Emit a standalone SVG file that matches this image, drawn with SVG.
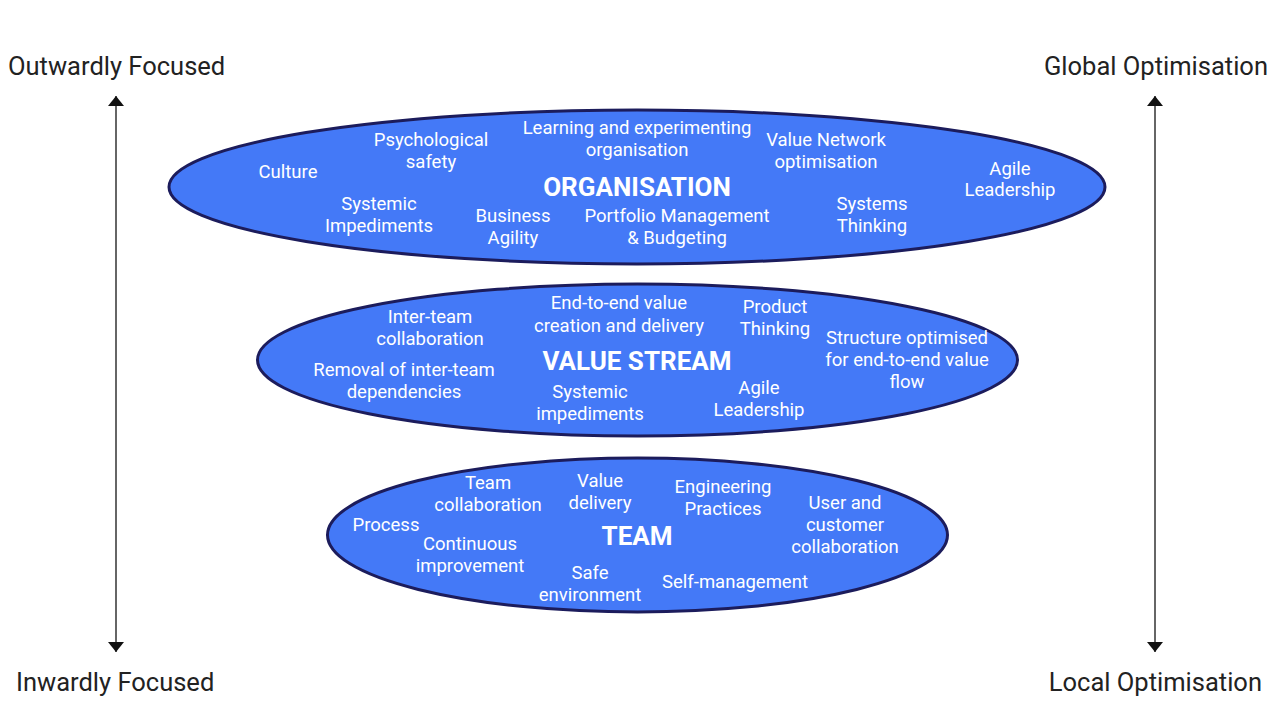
<svg xmlns="http://www.w3.org/2000/svg" width="1280" height="718" viewBox="0 0 1280 718">
<defs>
<style>
.ell{fill:#4479f7;stroke:#1c1c5c;stroke-width:3}
.t{font-family:Roboto,"Liberation Sans",sans-serif;font-size:18.5px;fill:#fff;text-anchor:middle}
.h{font-family:Roboto,"Liberation Sans",sans-serif;font-size:26px;font-weight:bold;fill:#fff;text-anchor:middle}
.ax{font-family:Roboto,"Liberation Sans",sans-serif;font-size:25.5px;fill:#222}
.ln{stroke:#333;stroke-width:1.5;fill:none}
</style>
<marker id="ah" viewBox="0 0 10 16" refX="10" refY="8" markerWidth="10" markerHeight="16" markerUnits="userSpaceOnUse" orient="auto">
<path d="M0,0 L10,8 L0,16 Z" fill="#111"/>
</marker>
</defs>
<rect width="1280" height="718" fill="#fff"/>
<g id="connectors">
<line class="ln" x1="116" y1="374" x2="116" y2="96" marker-end="url(#ah)"/>
<line class="ln" x1="116" y1="374" x2="116" y2="652" marker-end="url(#ah)"/>
<line class="ln" x1="1155" y1="374" x2="1155" y2="96" marker-end="url(#ah)"/>
<line class="ln" x1="1155" y1="374" x2="1155" y2="652" marker-end="url(#ah)"/>
</g>
<g id="axis-labels">
<text class="ax" x="8" y="75">Outwardly Focused</text>
<text class="ax" x="16" y="691">Inwardly Focused</text>
<text class="ax" x="1268" y="75" text-anchor="end">Global Optimisation</text>
<text class="ax" x="1262" y="691" text-anchor="end">Local Optimisation</text>
</g>
<g id="organisation">
<ellipse class="ell" cx="637" cy="187" rx="468" ry="77"/>
<text class="h" x="637" y="196">ORGANISATION</text>
<text class="t" x="288" y="178">Culture</text>
<text class="t" x="431" y="146">Psychological</text>
<text class="t" x="431" y="168">safety</text>
<text class="t" x="637" y="134">Learning and experimenting</text>
<text class="t" x="637" y="156">organisation</text>
<text class="t" x="826" y="146">Value Network</text>
<text class="t" x="826" y="168">optimisation</text>
<text class="t" x="1010" y="175">Agile</text>
<text class="t" x="1010" y="196">Leadership</text>
<text class="t" x="379" y="210">Systemic</text>
<text class="t" x="379" y="232">Impediments</text>
<text class="t" x="513" y="222">Business</text>
<text class="t" x="513" y="244">Agility</text>
<text class="t" x="677" y="222">Portfolio Management</text>
<text class="t" x="677" y="244">&amp; Budgeting</text>
<text class="t" x="872" y="210">Systems</text>
<text class="t" x="872" y="232">Thinking</text>
</g>
<g id="value-stream">
<ellipse class="ell" cx="637.5" cy="360" rx="380" ry="76"/>
<text class="h" x="637" y="370">VALUE STREAM</text>
<text class="t" x="430" y="323">Inter-team</text>
<text class="t" x="430" y="345">collaboration</text>
<text class="t" x="619" y="309">End-to-end value</text>
<text class="t" x="619" y="332">creation and delivery</text>
<text class="t" x="775" y="313">Product</text>
<text class="t" x="775" y="335">Thinking</text>
<text class="t" x="907" y="344">Structure optimised</text>
<text class="t" x="907" y="366">for end-to-end value</text>
<text class="t" x="907" y="388">flow</text>
<text class="t" x="404" y="376">Removal of inter-team</text>
<text class="t" x="404" y="398">dependencies</text>
<text class="t" x="590" y="398">Systemic</text>
<text class="t" x="590" y="420">impediments</text>
<text class="t" x="759" y="394">Agile</text>
<text class="t" x="759" y="416">Leadership</text>
</g>
<g id="team">
<ellipse class="ell" cx="637.5" cy="535" rx="310" ry="77"/>
<text class="h" x="637" y="545">TEAM</text>
<text class="t" x="488" y="489">Team</text>
<text class="t" x="488" y="511">collaboration</text>
<text class="t" x="600" y="487">Value</text>
<text class="t" x="600" y="509">delivery</text>
<text class="t" x="723" y="493">Engineering</text>
<text class="t" x="723" y="515">Practices</text>
<text class="t" x="845" y="509">User and</text>
<text class="t" x="845" y="531">customer</text>
<text class="t" x="845" y="553">collaboration</text>
<text class="t" x="386" y="531">Process</text>
<text class="t" x="470" y="550">Continuous</text>
<text class="t" x="470" y="572">improvement</text>
<text class="t" x="590" y="579">Safe</text>
<text class="t" x="590" y="601">environment</text>
<text class="t" x="735" y="588">Self-management</text>
</g>
</svg>
